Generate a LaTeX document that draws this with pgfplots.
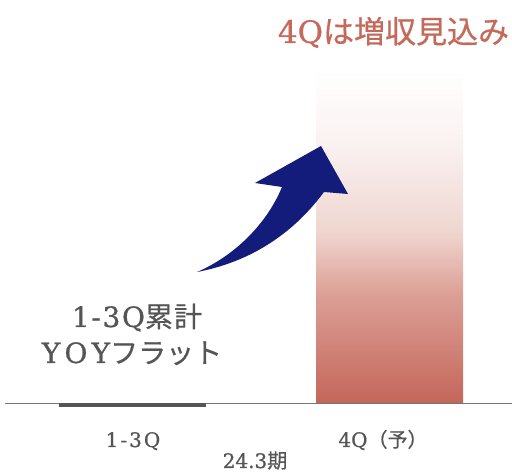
\documentclass[border=0pt]{standalone}
\usepackage{fontspec}
\setmainfont{DejaVu Serif}[FakeBold=0.8]
\newfontfamily\jp{Noto Sans CJK JP}[FakeBold=0.6]
\newfontfamily\jps{Noto Sans CJK JP}[LetterSpace=4, FakeBold=0.6]
\newfontfamily\latw{DejaVu Serif}[LetterSpace=15, FakeBold=0.8]
\newfontfamily\lats{DejaVu Serif}[LetterSpace=6, FakeBold=0.8]
\newfontfamily\latt{DejaVu Serif}[LetterSpace=10, FakeBold=0.8]
\usepackage{pgfplots}
\pgfplotsset{compat=1.18}

\definecolor{barred}{HTML}{C4665A}
\definecolor{barB}{HTML}{DCA096}
\definecolor{barC}{HTML}{EFD5CF}
\definecolor{barD}{HTML}{FAF2F1}
\definecolor{bargray}{HTML}{555555}
\definecolor{axisgray}{HTML}{777777}
\definecolor{textgray}{HTML}{555555}
\definecolor{titlered}{HTML}{C5695B}
\definecolor{arrowblue}{HTML}{131B7B}

% bar fill: red at the base fading to white at the top
\pgfdeclareverticalshading{barshade}{100bp}{%
  color(0bp)=(barred); color(25bp)=(barred); color(41.5bp)=(barB);
  color(50.5bp)=(barC); color(64bp)=(barD); color(75bp)=(white);
  color(100bp)=(white)}

\begin{document}
\begin{tikzpicture}
  \begin{axis}[
    width=512bp, height=473bp, scale only axis,
    xmin=0, xmax=512, ymin=-70, ymax=403,
    axis x line=middle, axis y line=none,
    x axis line style={-, draw=axisgray, line width=0.8bp, shorten <=5bp},
    ytick=\empty,
    xtick={133,383},
    xticklabels={{\latt 1-3Q}, 4Q{\jp （予）}},
    major tick length=0pt,
    xticklabel style={anchor=base, yshift=-44bp, text=textgray,
      font=\fontsize{20bp}{20bp}\selectfont},
    clip=false,
  ]
    % 1-3Q: flat, drawn as a thin bar just under the baseline
    \addplot[ybar, bar width=147, bar shift=0pt, draw=none, fill=bargray]
      coordinates {(132.5,-4)};
    % 4Q forecast
    \addplot[ybar, bar width=147, bar shift=0pt, draw=none, shading=barshade]
      coordinates {(389.5,333)};

    % curved arrow
    \fill[arrowblue] (197,131) .. controls (230,145) and (265,175) .. (282,216)
      -- (255,220) -- (321,257) -- (348,209) -- (324,211)
      .. controls (290,165) and (245,140) .. cycle;

    \node[anchor=base, text=titlered, font=\fontsize{31bp}{31bp}\selectfont]
      at (393.5,360) {4Q{\jp は増収見込み}};
    \node[anchor=base, text=textgray, font=\fontsize{28bp}{28bp}\selectfont]
      at (137,76) {{\lats 1-3Q}{\jps 累計}};
    \node[anchor=base, text=textgray, font=\fontsize{28bp}{28bp}\selectfont]
      at (132,40) {{\latw YOY}{\jp フラット}};
    \node[anchor=base, text=textgray, font=\fontsize{20bp}{20bp}\selectfont]
      at (255,-65) {24.3{\jp 期}};
  \end{axis}
  \pgfresetboundingbox
  \path (current axis.south west) rectangle (current axis.north east);
\end{tikzpicture}
\end{document}
